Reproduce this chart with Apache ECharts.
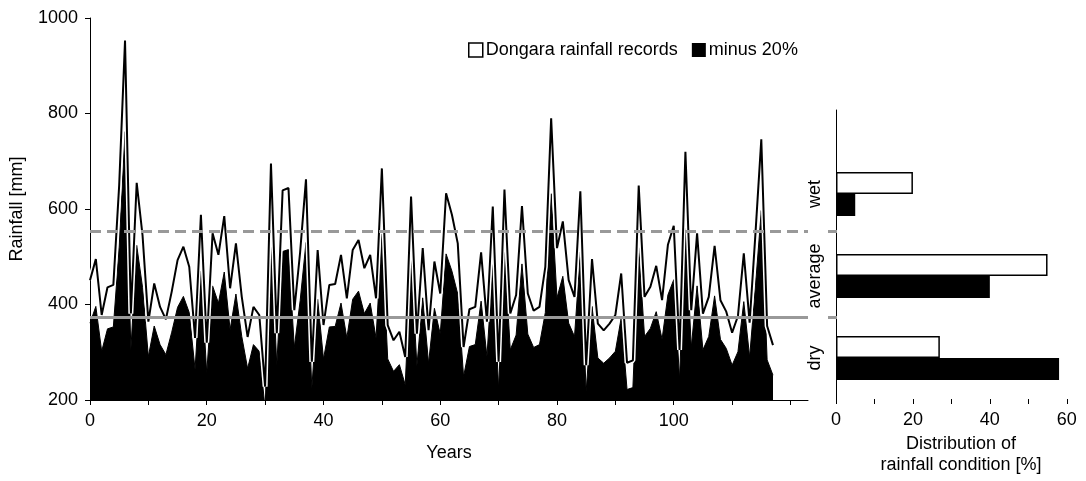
<!DOCTYPE html>
<html lang="en">
<head>
<meta charset="UTF-8">
<title>Dongara rainfall</title>
<style>
    * { margin: 0; padding: 0; }
    html, body { width: 100%; height: 100%; background: #fff; }
    #main { width: 1086px; height: 481px; }
</style>
</head>
<body>
<div id="main"></div>
<script src="https://cdn.jsdelivr.net/npm/echarts@6/dist/echarts.min.js"></script>
<script>
// yearly rainfall, year 0 .. 117 [mm]
var rainfall = [
    451, 495, 378, 436, 441, 650, 953, 381, 655, 545,
    364, 444, 395, 369, 427, 493, 521, 479, 330, 588,
    320, 549, 504, 585, 434, 528, 416, 332, 395, 378,
    228, 695, 340, 639, 644, 388, 510, 662, 280, 514,
    357, 441, 443, 504, 413, 514, 535, 476, 504, 413,
    685, 357, 325, 343, 290, 626, 339, 518, 346, 490,
    423, 633, 588, 528, 311, 390, 395, 509, 364, 605,
    280, 641, 381, 420, 606, 423, 387, 395, 479, 790,
    518, 574, 451, 416, 637, 273, 495, 360, 346, 360,
    378, 465, 278, 283, 649, 416, 437, 481, 409, 525,
    565, 305, 720, 388, 549, 381, 416, 523, 409, 385,
    341, 376, 507, 362, 549, 746, 355, 315
];
// same records minus 20%
var minus20 = [
    361, 396, 302, 349, 353, 520, 762, 305, 524, 436,
    291, 355, 316, 295, 342, 394, 417, 383, 264, 470,
    256, 439, 403, 468, 347, 422, 333, 266, 316, 302,
    182, 556, 272, 511, 515, 310, 408, 530, 224, 411,
    286, 353, 354, 403, 330, 411, 428, 381, 403, 330,
    548, 286, 260, 274, 232, 501, 271, 414, 277, 392,
    338, 506, 470, 422, 249, 312, 316, 407, 291, 484,
    224, 513, 305, 336, 485, 338, 310, 316, 383, 632,
    414, 459, 361, 333, 510, 218, 396, 288, 277, 288,
    302, 372, 222, 226, 519, 333, 350, 385, 327, 420,
    452, 244, 576, 310, 439, 305, 333, 418, 327, 308,
    273, 301, 406, 290, 439, 597, 284, 252
];
var wetLimit = 554;
var dryLimit = 374;

var conditions = ['dry', 'average', 'wet'];
var distRecords = [27, 55, 20];
var distMinus20 = [58, 40, 5];

var yearTicks = [0, 10, 20, 30, 40, 50, 60, 70, 80, 90, 100, 110, 120];
var yearLabels = [0, 20, 40, 60, 80, 100];
var pctTicks = [0, 10, 20, 30, 40, 50, 60];
var pctLabels = [0, 20, 40, 60];

function pairs(arr) {
    return arr.map(function (v, i) { return [i, v]; });
}
function plain(v) { return String(v); }

var font = 'Liberation Sans, Arial, sans-serif';
var fs = 18;
var axisBlack = { lineStyle: { color: '#000', width: 1 } };

var limitLines = {
    silent: true,
    symbol: 'none',
    label: { show: false },
    data: [
        { yAxis: wetLimit, lineStyle: { color: '#999', width: 3, type: [11, 6] } },
        { yAxis: dryLimit, lineStyle: { color: '#999', width: 3, type: 'solid' } }
    ]
};

var myChart = echarts.init(document.getElementById('main'));
var option = {
    animation: false,
    textStyle: { fontFamily: font, color: '#000' },
    legend: {
        left: 463,
        top: 36,
        itemWidth: 14,
        itemHeight: 14,
        itemGap: 14,
        textStyle: { fontSize: fs, color: '#000', padding: [0, 0, 0, -2] },
        data: [
            { name: 'Dongara rainfall records', icon: 'rect',
              itemStyle: { color: '#fff', borderColor: '#000', borderWidth: 1.5 } },
            { name: 'minus 20%', icon: 'rect', itemStyle: { color: '#000', borderWidth: 0 } }
        ]
    },
    grid: [
        { left: 90, top: 18, right: 278, bottom: 81 },     // time series
        { left: 836, top: 153, right: 0, bottom: 80 },     // distribution bars
        { left: 828, top: 18, width: 9, bottom: 81 },      // limit line stubs
        { left: 836, top: 110, width: 10, bottom: 80 }     // tall y axis line
    ],
    xAxis: [
        {
            gridIndex: 0, type: 'value', min: 0, max: 123,
            name: 'Years', nameLocation: 'middle', nameGap: 44,
            nameTextStyle: { fontSize: fs, color: '#000' },
            axisLine: axisBlack,
            axisTick: { show: true, length: 5, lineStyle: { color: '#000' }, customValues: yearTicks },
            axisLabel: { fontSize: fs, color: '#000', margin: 12, customValues: yearLabels, formatter: plain },
            splitLine: { show: false }
        },
        {
            gridIndex: 1, type: 'value', min: 0, max: 65,
            name: 'Distribution of\nrainfall condition [%]', nameLocation: 'middle', nameGap: 35,
            nameTextStyle: { fontSize: fs, color: '#000', lineHeight: 21 },
            axisLine: axisBlack,
            axisTick: { show: true, length: 5, lineStyle: { color: '#000' }, customValues: pctTicks },
            axisLabel: { fontSize: fs, color: '#000', margin: 12, customValues: pctLabels, formatter: plain },
            splitLine: { show: false }
        },
        { gridIndex: 2, type: 'value', min: 0, max: 1, show: false },
        { gridIndex: 3, type: 'value', min: 0, max: 1, show: false }
    ],
    yAxis: [
        {
            gridIndex: 0, type: 'value', min: 200, max: 1000, interval: 200,
            name: 'Rainfall [mm]', nameLocation: 'middle', nameGap: 64,
            nameTextStyle: { fontSize: fs, color: '#000' },
            axisLine: { show: true, lineStyle: { color: '#000', width: 1 } },
            axisTick: { show: true, length: 5, lineStyle: { color: '#000' } },
            axisLabel: { fontSize: fs, color: '#000', margin: 12, formatter: plain },
            splitLine: { show: false }
        },
        {
            gridIndex: 1, type: 'category', data: conditions,
            axisLine: { show: false },
            axisTick: { show: false },
            axisLabel: { fontSize: fs, color: '#000', rotate: 90, margin: 12, interval: 0, hideOverlap: false },
            splitLine: { show: false }
        },
        { gridIndex: 2, type: 'value', min: 200, max: 1000, show: false },
        {
            gridIndex: 3, type: 'value', min: 0, max: 1,
            axisLine: { show: true, lineStyle: { color: '#000', width: 1 } },
            axisTick: { show: false }, axisLabel: { show: false }, splitLine: { show: false }
        }
    ],
    series: [
        {
            name: 'minus 20%', type: 'line', xAxisIndex: 0, yAxisIndex: 0,
            data: pairs(minus20), symbol: 'none', z: 1,
            itemStyle: { color: '#000' },
            lineStyle: { color: '#000', width: 1 },
            areaStyle: { color: '#000', opacity: 1, origin: 'start' }
        },
        {
            name: 'halo', type: 'line', xAxisIndex: 0, yAxisIndex: 0,
            data: pairs(rainfall), symbol: 'none', z: 2, silent: true,
            lineStyle: { color: '#fff', width: 5 }
        },
        {
            name: 'Dongara rainfall records', type: 'line', xAxisIndex: 0, yAxisIndex: 0,
            data: pairs(rainfall), symbol: 'none', z: 3,
            itemStyle: { color: '#fff', borderColor: '#000' },
            lineStyle: { color: '#000', width: 2 },
            markLine: limitLines
        },
        {
            name: 'stubs', type: 'line', xAxisIndex: 2, yAxisIndex: 2,
            data: [], markLine: limitLines
        },
        {
            name: 'Dongara rainfall records', type: 'bar', xAxisIndex: 1, yAxisIndex: 1,
            data: distRecords, barWidth: 22, barGap: '0%',
            itemStyle: { color: '#fff', borderColor: '#000', borderWidth: 1.5 }
        },
        {
            name: 'minus 20%', type: 'bar', xAxisIndex: 1, yAxisIndex: 1,
            data: distMinus20, barWidth: 22, barGap: '0%',
            itemStyle: { color: '#000' }
        }
    ]
};
myChart.setOption(option);
</script>
</body>
</html>
